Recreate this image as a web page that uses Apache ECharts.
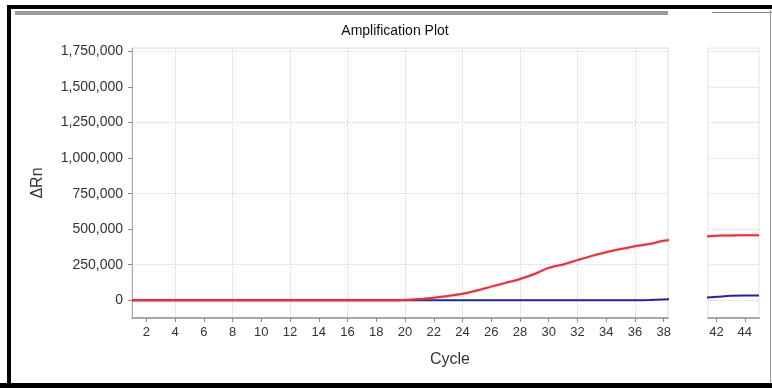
<!DOCTYPE html>
<html><head><meta charset="utf-8">
<script src="https://cdn.jsdelivr.net/npm/echarts@6/dist/echarts.min.js"></script>
<style>html,body{margin:0;padding:0;background:#fff}#c{width:772px;height:388px}</style>
</head><body><div id="c"></div>
<script>
// Data
var cycles = [1,2,3,4,5,6,7,8,9,10,11,12,13,14,15,16,17,18,19,20,21,22,23,24,25,26,27,28,29,30,31,32,33,34,35,36,37,38,39,40,41,42,43,44,45];
var redRn  = [0,0,0,0,0,0,0,0,0,0,0,0,0,0,0,0,0,0,0,2000,8000,18000,30000,45000,68000,96000,122000,150000,185000,228000,252000,282000,312000,338000,360000,380000,396000,418000,432000,442000,448000,453000,456000,457000,457000];
var blueRn = [0,0,0,0,0,0,0,0,0,0,0,0,0,0,0,0,0,0,0,0,0,0,0,0,0,0,0,0,0,0,0,0,0,0,0,0,2000,6000,10000,15000,18000,24000,31000,33000,33000];
var xTickValuesLeft = [2,4,6,8,10,12,14,16,18,20,22,24,26,28,30,32,34,36,38];
var xTickValuesRight = [42,44];
var yTickValues = [0,250000,500000,750000,1000000,1250000,1500000,1750000];
var titleText = 'Amplification Plot';
var xName = 'Cycle';
var yName = '\u0394Rn';

var redPts = cycles.map(function(c,i){return [c, redRn[i]];});
var bluePts = cycles.map(function(c,i){return [c, blueRn[i]];});

var FONT = 'Liberation Sans, Arial, sans-serif';
var GRID_COL = '#d6d6d6';
var RED = '#d9373e', BLUE = '#23239a';
var T = 'rgba(0,0,0,0)';

function fmtY(v){
  if (v < 0 || v % 250000 !== 0) return '';
  return v.toString().replace(/\B(?=(\d{3})+(?!\d))/g, ',');
}
function fmtX(v){
  var r = Math.round(v);
  if (Math.abs(v - r) > 1e-6 || r % 2 !== 0) return '';
  return String(r);
}
var chart = echarts.init(document.getElementById('c'), null, {renderer:'canvas'});
var axisLabelStyle = {color:'#333', fontFamily:FONT, fontSize:13};

chart.setOption({
  backgroundColor:'#fff',
  animation:false,
  title:[
    {text:titleText, left:390, top:19, textAlign:'center', textStyle:{fontFamily:FONT, fontSize:14, fontWeight:'normal', color:'#111'}},
    {text:xName, left:445, top:347, textAlign:'center', textStyle:{fontFamily:FONT, fontSize:16, fontWeight:'normal', color:'#333'}}
  ],
  grid:[
    {left:132, top:48, width:536, height:270, show:true, borderColor:'#dcdcdc', borderWidth:1, containLabel:false},
    {left:708, top:48, width:51, height:270, show:true, borderColor:'#e4e4e4', borderWidth:1, containLabel:false}
  ],
  xAxis:[
    {type:'value', gridIndex:0, min:1, max:38.3, interval:1,
     axisLine:{show:true, onZero:false, lineStyle:{color:'#a8a8a8', width:2}},
     axisTick:{show:true, customValues:xTickValuesLeft, length:4, lineStyle:{color:'#888'}},
     axisLabel:Object.assign({formatter:fmtX, margin:8, showMinLabel:true, showMaxLabel:true}, axisLabelStyle),
     splitLine:{show:true, lineStyle:{type:'dotted', color:[T, GRID_COL]}}},
    {type:'value', gridIndex:1, min:41.4, max:45, interval:0.2,
     axisLine:{show:true, onZero:false, lineStyle:{color:'#a8a8a8', width:2}},
     axisTick:{show:true, customValues:xTickValuesRight, length:4, lineStyle:{color:'#888'}},
     axisLabel:Object.assign({formatter:fmtX, margin:8}, axisLabelStyle),
     splitLine:{show:true, lineStyle:{type:'dotted', color:[T,T,T,GRID_COL,T,T,T,T,T,T]}}}
  ],
  yAxis:[
    {type:'value', gridIndex:0, min:-125000, max:1775000, interval:125000,
     name:yName, nameLocation:'middle', nameGap:86, nameTextStyle:{fontFamily:FONT, fontSize:16, color:'#333'},
     axisLine:{show:true, onZero:false, lineStyle:{color:'#a8a8a8', width:1}},
     axisTick:{show:true, customValues:yTickValues, length:4, lineStyle:{color:'#888'}},
     axisLabel:Object.assign({formatter:fmtY, margin:9}, axisLabelStyle, {fontSize:14}),
     splitLine:{show:true, lineStyle:{type:'dotted', color:[T, GRID_COL]}}},
    {type:'value', gridIndex:1, min:-125000, max:1775000, interval:125000,
     axisLine:{show:false}, axisTick:{show:false}, axisLabel:{show:false},
     splitLine:{show:true, lineStyle:{type:'dotted', color:[T, GRID_COL]}}}
  ],
  series:[
    {type:'line', xAxisIndex:0, yAxisIndex:0, data:bluePts, showSymbol:false, smooth:0.3, clip:true, lineStyle:{color:BLUE, width:2}, z:3},
    {type:'line', xAxisIndex:0, yAxisIndex:0, data:redPts, showSymbol:false, smooth:0.3, clip:true, lineStyle:{color:RED, width:2, shadowColor:'rgba(235,90,100,0.55)', shadowBlur:2}, z:4},
    {type:'line', xAxisIndex:1, yAxisIndex:1, data:bluePts, showSymbol:false, smooth:0.3, clip:true, lineStyle:{color:BLUE, width:2}, z:3},
    {type:'line', xAxisIndex:1, yAxisIndex:1, data:redPts, showSymbol:false, smooth:0.3, clip:true, lineStyle:{color:RED, width:2, shadowColor:'rgba(235,90,100,0.55)', shadowBlur:2}, z:4}
  ],
  graphic:[
    {type:'rect', shape:{x:7, y:5, width:4, height:383}, style:{fill:'#000'}, silent:true},
    {type:'rect', shape:{x:7, y:5, width:765, height:4}, style:{fill:'#000'}, silent:true},
    {type:'rect', shape:{x:0, y:383, width:772, height:5}, style:{fill:'#000'}, silent:true},
    {type:'rect', shape:{x:15, y:11, width:653, height:4}, style:{fill:'#9a9a9a'}, silent:true},
    {type:'rect', shape:{x:770, y:10, width:1, height:373}, style:{fill:'#999'}, silent:true},
    {type:'rect', shape:{x:712, y:12, width:60, height:1}, style:{fill:'#888'}, silent:true}
  ]
});
</script></body></html>
